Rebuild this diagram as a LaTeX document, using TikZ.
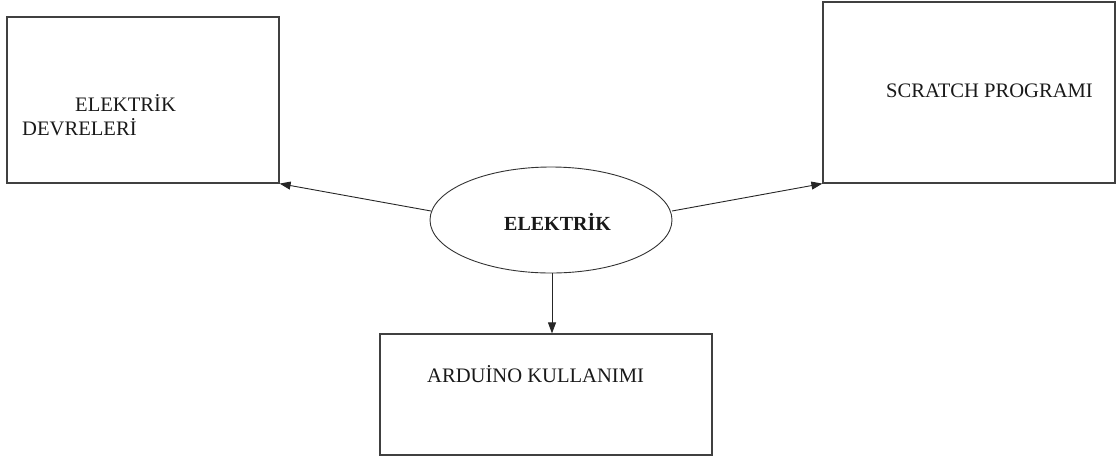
\documentclass[tikz,border=0pt]{standalone}
\usepackage{fontspec}
\setmainfont{Liberation Serif}
\usetikzlibrary{shapes.geometric,arrows.meta}
\begin{document}
\begin{tikzpicture}[x=1pt,y=-1pt,
  boxstyle/.style={draw=black!75,line width=1.2pt},
  lbl/.style={anchor=base west,inner sep=0pt,font=\fontsize{20.6}{23}\selectfont,text=black!90},
  conn/.style={draw=black!85,line width=0.9pt,-{Triangle[length=11pt,width=8pt]}}]
\useasboundingbox (0,0) rectangle (1116,459);
\node[boxstyle,minimum width=272pt,minimum height=166pt,inner sep=0pt] (lb) at (143,100) {};
\node[boxstyle,minimum width=292pt,minimum height=181pt,inner sep=0pt] (rb) at (969,92.5) {};
\node[boxstyle,minimum width=332pt,minimum height=121pt,inner sep=0pt] (bb) at (546,394.5) {};
\node[draw=black!80,line width=0.9pt,ellipse,minimum width=242pt,minimum height=106pt,inner sep=0pt] (el) at (551,220) {};
\node[lbl] (t1) at (75,111) {ELEKTRİK};
\node[lbl] (t2) at (22,135) {DEVRELERİ};
\node[lbl] (t3) at (886,97) {SCRATCH PROGRAMI};
\node[lbl] (t4) at (427,382) {ARDUİNO KULLANIMI};
\node[lbl,font=\bfseries\fontsize{20}{23}\selectfont] (t5) at (504,230) {ELEKTRİK};
\coordinate (la) at (431,211);
\coordinate (ra) at (672,211);
\coordinate (da) at (552,273);
\draw[conn] (la) -- (lb.south east);
\draw[conn] (ra) -- (rb.south west);
\draw[conn] (da) -- (da |- bb.north);
\end{tikzpicture}
\end{document}
